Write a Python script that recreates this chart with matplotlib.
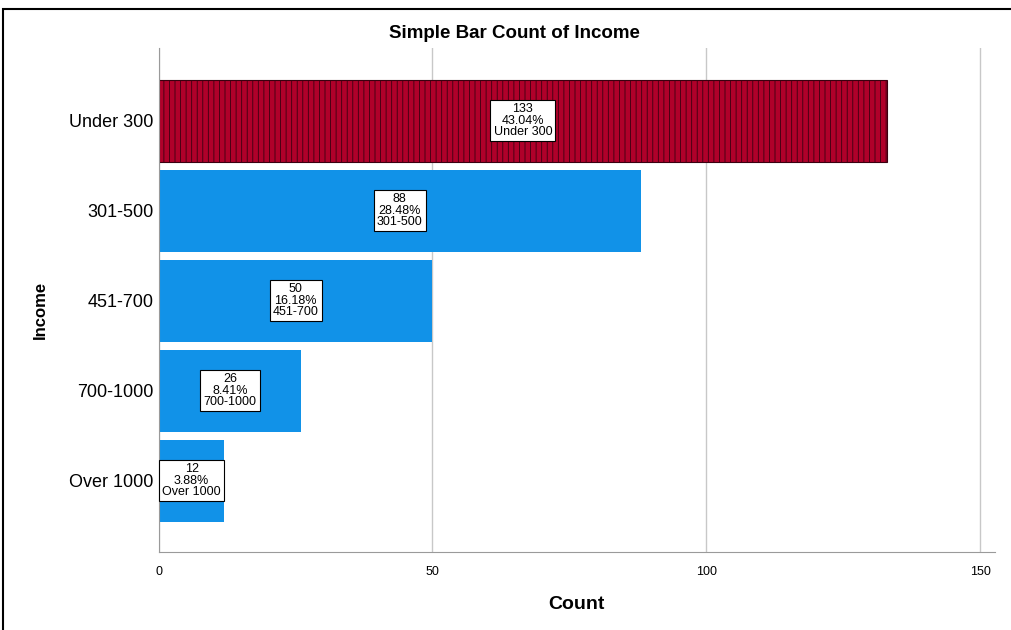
import matplotlib
matplotlib.use("Agg")
import matplotlib.pyplot as plt
from matplotlib.patches import Rectangle

plt.rcParams['font.family'] = ['Liberation Sans', 'DejaVu Sans']
plt.rcParams['hatch.linewidth'] = 0.6

categories = ['Under 300', '301-500', '451-700', '700-1000', 'Over 1000']
counts = [133, 88, 50, 26, 12]
percents = ['43.04%', '28.48%', '16.18%', '8.41%', '3.88%']

fig = plt.figure(figsize=(10.11, 6.30), dpi=100)
fig.patches.append(Rectangle((0.003, -0.01), 1.2, 0.995, transform=fig.transFigure,
                             fill=False, edgecolor='black', linewidth=1.5))
ax = fig.add_axes([0.157, 0.124, 0.827, 0.80])

ypos = list(range(len(categories)))
colors = ['#b0002a'] + ['#1192e8'] * 4
bars = ax.barh(ypos, counts, height=0.91, color=colors, zorder=2)
bars[0].set_hatch('|||')
bars[0].set_edgecolor('#3a0010')
bars[0].set_linewidth(0.8)

for y, c, p, cat in zip(ypos, counts, percents, categories):
    ax.text(c / 2, y, f'{c}\n{p}\n{cat}', ha='center', va='center', fontsize=9,
            linespacing=0.95, zorder=4,
            bbox=dict(boxstyle='square,pad=0.25', facecolor='white', edgecolor='black', linewidth=0.8))

ax.set_ylim(4.79, -0.81)
ax.set_xlim(0, 152.7)
ax.set_xticks([0, 50, 100, 150])
ax.set_yticks(ypos)
ax.set_yticklabels(categories, fontsize=13)
ax.tick_params(axis='x', labelsize=9, length=0, pad=10)
ax.tick_params(axis='y', length=0, pad=4)
ax.grid(axis='x', color='#c8c8c8', linewidth=1, zorder=0)
for s in ['top', 'right']:
    ax.spines[s].set_visible(False)
ax.spines['left'].set_color('#9a9a9a')
ax.spines['bottom'].set_color('#9a9a9a')

fig.text(514 / 1011, 1 - 34 / 630, 'Simple Bar Count of Income', fontsize=13.5,
         fontweight='bold', ha='center', va='center')
ax.set_xlabel('Count', fontsize=14, fontweight='bold', labelpad=13)
ax.set_ylabel('Income', fontsize=12, fontweight='bold')
ax.yaxis.set_label_coords(-0.133, 0.48)

fig.savefig('out.png', dpi=100)
